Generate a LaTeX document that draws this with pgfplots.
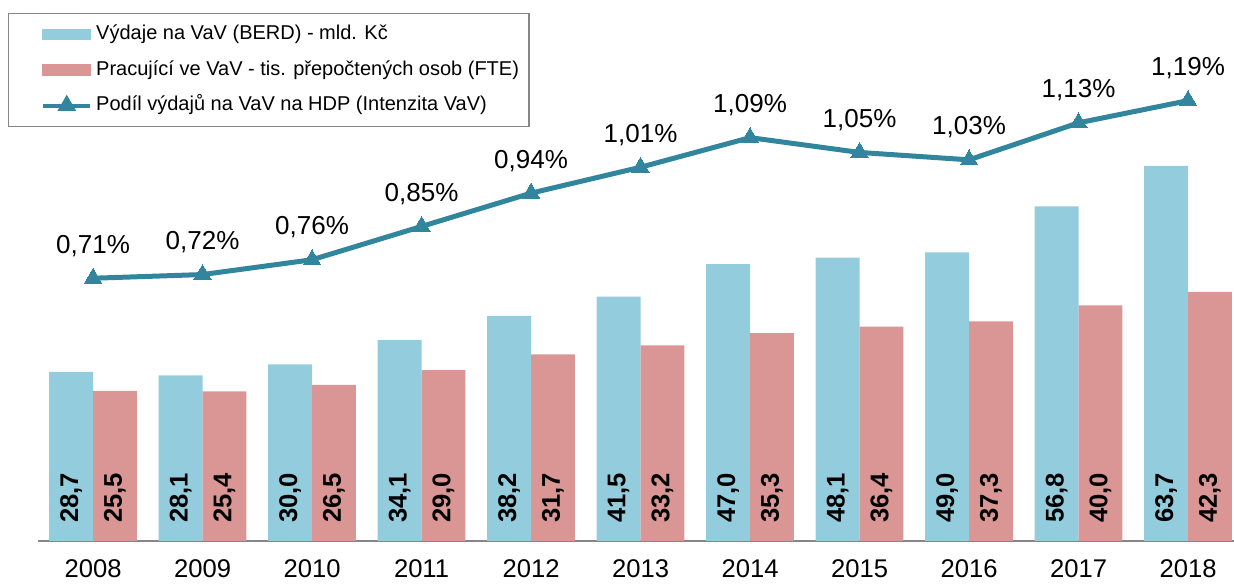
\documentclass[border=0pt]{standalone}
\usepackage{fontspec}
\setmainfont{Liberation Sans}
\usepackage{pgfplots}
\usepackage{pgfplotstable}
\pgfplotsset{compat=1.18}
\definecolor{cBerd}{HTML}{93CDDD}
\definecolor{cFte}{HTML}{D99694}
\definecolor{cLine}{HTML}{31859C}
\definecolor{cAxis}{HTML}{868686}

\pgfplotstableread{
x year berd fte hdp
0 2008 28.7 25.5 0.71
1 2009 28.1 25.4 0.72
2 2010 30.0 26.5 0.76
3 2011 34.1 29.0 0.85
4 2012 38.2 31.7 0.94
5 2013 41.5 33.2 1.01
6 2014 47.0 35.3 1.09
7 2015 48.1 36.4 1.05
8 2016 49.0 37.3 1.03
9 2017 56.8 40.0 1.13
10 2018 63.7 42.3 1.19
}\data

\begin{document}
\begin{tikzpicture}
\pgfplotsset{
  base/.style={width=597.85pt, height=270.5pt, scale only axis,
    xmin=-0.5, xmax=10.42, ymin=0, clip=false,
    /pgf/number format/assume math mode=true},
  barlabel/.style={draw=none, mark=none, forget plot, nodes near coords,
    point meta=explicit,
    nodes near coords style={text=black, yshift=9pt, rotate=90, anchor=west,
      inner sep=0pt, font=\bfseries\fontsize{12.8}{14}\selectfont,
      /pgf/number format/.cd, fixed, fixed zerofill, precision=1, use comma}},
}
% bars
\begin{axis}[base, name=main, ymax=91.85,
    axis y line=none, axis x line*=bottom,
    x axis line style={cAxis, line width=1.3pt, -},
    xtick=data, xticklabels from table={\data}{year},
    major tick length=0pt,
    xticklabel style={font=\fontsize{12.8}{14}\selectfont, yshift=-6pt},
]
\addplot[ybar, bar width=0.4, bar shift=-0.2, fill=cBerd, draw=none] table[x=x, y=berd]{\data};
\addplot[ybar, bar width=0.4, bar shift=0.2, fill=cFte, draw=none] table[x=x, y=fte]{\data};
\addplot[barlabel] table[x expr=\thisrow{x}-0.2, y expr=0, meta=berd]{\data};
\addplot[barlabel] table[x expr=\thisrow{x}+0.2, y expr=0, meta=fte]{\data};
\end{axis}
% share of GDP
\begin{axis}[base, ymax=1.462, hide axis,
    legend cell align=left,
    legend style={at={(0,1)}, anchor=north west, xshift=-15.15pt, yshift=-6.5pt,
      draw=cAxis, line width=0.75pt, inner xsep=3pt, inner ysep=5.5pt,
      row sep=7.75pt, font=\fontsize{10}{12}\selectfont,
      nodes={text height=7.5pt, text depth=2.5pt, inner ysep=0pt}},
]
\addlegendimage{legend image code/.code={
  \path (-13pt,0pt);
  \fill[cBerd] (0pt,-2.5pt) rectangle (23.5pt,2.5pt);}}
\addlegendimage{legend image code/.code={
  \path (-13pt,0pt);
  \fill[cFte] (0pt,-2.5pt) rectangle (23.5pt,2.5pt);}}
\addplot[cLine, line width=2.5pt, mark=triangle*, mark size=5pt,
    mark options={solid, line width=0pt},
    legend image code/.code={
      \path (-13pt,0pt);
      \draw[cLine, line width=2pt] (0pt,0pt) -- (23.5pt,0pt);
      \fill[cLine] (11.75pt,0pt) ++(90:3pt) -- ++(-120:5pt) -- ++(0:5pt) -- cycle;},
    nodes near coords={\pgfmathprintnumber[fixed, fixed zerofill, precision=2, use comma]{\pgfplotspointmeta}\%},
    nodes near coords style={text=black, anchor=south, yshift=7.5pt,
      font=\fontsize{13}{15}\selectfont}]
  table[x=x, y=hdp]{\data};
\legend{Výdaje na VaV (BERD) - mld. Kč,
  Pracující ve VaV - tis. přepočtených osob (FTE),
  Podíl výdajů na VaV na HDP (Intenzita VaV)}
\end{axis}
\pgfresetboundingbox
\path (main.south west) ++(-19.15pt,-22pt) rectangle (main.north east);
\end{tikzpicture}
\end{document}
